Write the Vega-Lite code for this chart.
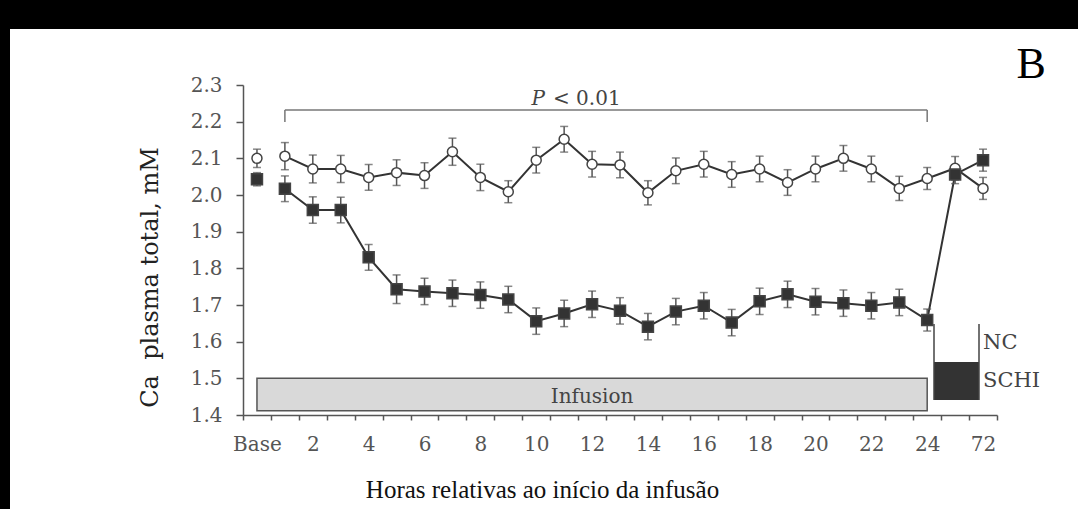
{
  "$schema": "https://vega.github.io/schema/vega-lite/v6.json",
  "background": "white",
  "padding": 0,
  "bounds": "flush",
  "spacing": 0,
  "config": {"view": {"stroke": null}, "font": "DejaVu Serif"},
  "resolve": {"scale": {"fill": "independent"}, "legend": {"fill": "independent"}},
  "datasets": {
    "series": [
      {"pos": 0, "hour": "Base", "group": "NC", "mean": 2.100, "sem": 0.025},
      {"pos": 1, "hour": "1", "group": "NC", "mean": 2.106, "sem": 0.037},
      {"pos": 2, "hour": "2", "group": "NC", "mean": 2.071, "sem": 0.038},
      {"pos": 3, "hour": "3", "group": "NC", "mean": 2.071, "sem": 0.037},
      {"pos": 4, "hour": "4", "group": "NC", "mean": 2.048, "sem": 0.035},
      {"pos": 5, "hour": "5", "group": "NC", "mean": 2.061, "sem": 0.035},
      {"pos": 6, "hour": "6", "group": "NC", "mean": 2.053, "sem": 0.035},
      {"pos": 7, "hour": "7", "group": "NC", "mean": 2.118, "sem": 0.037},
      {"pos": 8, "hour": "8", "group": "NC", "mean": 2.048, "sem": 0.036},
      {"pos": 9, "hour": "9", "group": "NC", "mean": 2.009, "sem": 0.030},
      {"pos": 10, "hour": "10", "group": "NC", "mean": 2.095, "sem": 0.035},
      {"pos": 11, "hour": "11", "group": "NC", "mean": 2.152, "sem": 0.035},
      {"pos": 12, "hour": "12", "group": "NC", "mean": 2.084, "sem": 0.035},
      {"pos": 13, "hour": "13", "group": "NC", "mean": 2.082, "sem": 0.035},
      {"pos": 14, "hour": "14", "group": "NC", "mean": 2.006, "sem": 0.033},
      {"pos": 15, "hour": "15", "group": "NC", "mean": 2.066, "sem": 0.035},
      {"pos": 16, "hour": "16", "group": "NC", "mean": 2.084, "sem": 0.035},
      {"pos": 17, "hour": "17", "group": "NC", "mean": 2.056, "sem": 0.035},
      {"pos": 18, "hour": "18", "group": "NC", "mean": 2.071, "sem": 0.035},
      {"pos": 19, "hour": "19", "group": "NC", "mean": 2.034, "sem": 0.035},
      {"pos": 20, "hour": "20", "group": "NC", "mean": 2.071, "sem": 0.035},
      {"pos": 21, "hour": "21", "group": "NC", "mean": 2.100, "sem": 0.035},
      {"pos": 22, "hour": "22", "group": "NC", "mean": 2.071, "sem": 0.035},
      {"pos": 23, "hour": "23", "group": "NC", "mean": 2.018, "sem": 0.033},
      {"pos": 24, "hour": "24", "group": "NC", "mean": 2.045, "sem": 0.030},
      {"pos": 25, "hour": "48", "group": "NC", "mean": 2.073, "sem": 0.032},
      {"pos": 26, "hour": "72", "group": "NC", "mean": 2.018, "sem": 0.030},
      {"pos": 0, "hour": "Base", "group": "SCHI", "mean": 2.043, "sem": 0.018},
      {"pos": 1, "hour": "1", "group": "SCHI", "mean": 2.017, "sem": 0.035},
      {"pos": 2, "hour": "2", "group": "SCHI", "mean": 1.959, "sem": 0.036},
      {"pos": 3, "hour": "3", "group": "SCHI", "mean": 1.959, "sem": 0.035},
      {"pos": 4, "hour": "4", "group": "SCHI", "mean": 1.830, "sem": 0.035},
      {"pos": 5, "hour": "5", "group": "SCHI", "mean": 1.743, "sem": 0.039},
      {"pos": 6, "hour": "6", "group": "SCHI", "mean": 1.737, "sem": 0.036},
      {"pos": 7, "hour": "7", "group": "SCHI", "mean": 1.732, "sem": 0.036},
      {"pos": 8, "hour": "8", "group": "SCHI", "mean": 1.727, "sem": 0.036},
      {"pos": 9, "hour": "9", "group": "SCHI", "mean": 1.715, "sem": 0.036},
      {"pos": 10, "hour": "10", "group": "SCHI", "mean": 1.656, "sem": 0.036},
      {"pos": 11, "hour": "11", "group": "SCHI", "mean": 1.677, "sem": 0.036},
      {"pos": 12, "hour": "12", "group": "SCHI", "mean": 1.702, "sem": 0.036},
      {"pos": 13, "hour": "13", "group": "SCHI", "mean": 1.684, "sem": 0.036},
      {"pos": 14, "hour": "14", "group": "SCHI", "mean": 1.641, "sem": 0.036},
      {"pos": 15, "hour": "15", "group": "SCHI", "mean": 1.682, "sem": 0.036},
      {"pos": 16, "hour": "16", "group": "SCHI", "mean": 1.698, "sem": 0.036},
      {"pos": 17, "hour": "17", "group": "SCHI", "mean": 1.652, "sem": 0.036},
      {"pos": 18, "hour": "18", "group": "SCHI", "mean": 1.710, "sem": 0.036},
      {"pos": 19, "hour": "19", "group": "SCHI", "mean": 1.729, "sem": 0.036},
      {"pos": 20, "hour": "20", "group": "SCHI", "mean": 1.709, "sem": 0.036},
      {"pos": 21, "hour": "21", "group": "SCHI", "mean": 1.705, "sem": 0.036},
      {"pos": 22, "hour": "22", "group": "SCHI", "mean": 1.698, "sem": 0.036},
      {"pos": 23, "hour": "23", "group": "SCHI", "mean": 1.707, "sem": 0.036},
      {"pos": 24, "hour": "24", "group": "SCHI", "mean": 1.659, "sem": 0.030},
      {"pos": 25, "hour": "48", "group": "SCHI", "mean": 2.056, "sem": 0.025},
      {"pos": 26, "hour": "72", "group": "SCHI", "mean": 2.095, "sem": 0.030}
    ],
    "notes": [
      {"kind": "box", "label": "Infusion", "x": 0, "x2": 24, "y": 1.4117, "y2": 1.5},
      {"kind": "boxlabel", "label": "Infusion", "x": 12, "x2": 12, "y": 1.4319, "y2": 1.4319},
      {"kind": "bracket", "label": "", "x": 1, "x2": 24, "y": 2.232, "y2": 2.232},
      {"kind": "bracket", "label": "", "x": 1, "x2": 1, "y": 2.199, "y2": 2.232},
      {"kind": "bracket", "label": "", "x": 24, "x2": 24, "y": 2.199, "y2": 2.232},
      {"kind": "p", "label": "P", "x": 10.31, "x2": 10.31, "y": 2.2454, "y2": 2.2454},
      {"kind": "pval", "label": "< 0.01", "x": 10.6, "x2": 10.6, "y": 2.2454, "y2": 2.2454},
      {"kind": "panel", "label": "B", "x": 27.72, "x2": 27.72, "y": 2.319, "y2": 2.319}
    ]
  },
  "hconcat": [
    {"width": 10, "height": 509, "view": {"fill": "black", "stroke": null}, "data": {"values": []}, "mark": "point"},
    {
      "bounds": "flush",
      "spacing": 56,
      "resolve": {"scale": {"fill": "independent"}, "legend": {"fill": "independent"}},
      "vconcat": [
        {"width": 1068, "height": 29, "view": {"fill": "black", "stroke": null}, "data": {"values": []}, "mark": "point"},
        {
          "bounds": "flush",
          "spacing": 0,
          "resolve": {"scale": {"fill": "independent"}, "legend": {"fill": "independent"}},
          "hconcat": [
            {"width": 233, "height": 330, "data": {"values": []}, "mark": "point"},
            {
              "width": 754,
              "height": 330,
              "data": {"name": "series"},
              "encoding": {
                "x": {
                  "field": "pos", "type": "quantitative",
                  "scale": {"domain": [-0.5, 26.5], "nice": false, "zero": false},
                  "axis": {
                    "title": "Horas relativas ao início da infusão",
                    "values": [-0.5, 0.5, 1.5, 2.5, 3.5, 4.5, 5.5, 6.5, 7.5, 8.5, 9.5, 10.5, 11.5, 12.5, 13.5, 14.5, 15.5, 16.5, 17.5, 18.5, 19.5, 20.5, 21.5, 22.5, 23.5, 24.5, 25.5, 26.5],
                    "labelExpr": "['Base','','2','','4','','6','','8','','10','','12','','14','','16','','18','','20','','22','','24','','72',''][datum.value + 0.5]",
                    "labelOffset": 13.96,
                    "labelFlush": false,
                    "labelOverlap": false,
                    "labelFont": "DejaVu Serif",
                    "labelFontSize": 20,
                    "labelColor": "#555555",
                    "labelBaseline": "alphabetic",
                    "labelPadding": 30,
                    "tickSize": 5,
                    "tickWidth": 1.5,
                    "tickColor": "#555555",
                    "domainColor": "#555555",
                    "domainWidth": 1.5,
                    "grid": false,
                    "titleFont": "Liberation Serif",
                    "titleFontSize": 25,
                    "titleFontWeight": "normal",
                    "titleColor": "#111111",
                    "titleX": 299,
                    "titleY": 82,
                    "titleBaseline": "alphabetic",
                    "titleAlign": "center"
                  }
                },
                "y": {
                  "field": "mean", "type": "quantitative",
                  "scale": {"domain": [1.4, 2.3], "nice": false, "zero": false},
                  "axis": {
                    "title": "Ca\u00a0 plasma total, mM",
                    "values": [1.4, 1.5, 1.6, 1.7, 1.8, 1.9, 2.0, 2.1, 2.2, 2.3],
                    "format": ".1f",
                    "labelFont": "DejaVu Serif",
                    "labelFontSize": 20,
                    "labelColor": "#555555",
                    "labelPadding": 14,
                    "tickSize": 7,
                    "tickWidth": 1.5,
                    "tickColor": "#555555",
                    "domainColor": "#555555",
                    "domainWidth": 1.5,
                    "grid": false,
                    "titleFont": "DejaVu Serif",
                    "titleFontSize": 24,
                    "titleFontWeight": "normal",
                    "titleColor": "#222222",
                    "titleX": -93,
                    "titleY": 192,
                    "titleAngle": -90,
                    "titleBaseline": "middle",
                    "titleAlign": "center"
                  }
                }
              },
              "layer": [
                {
                  "data": {"name": "notes"},
                  "transform": [{"filter": "datum.kind === 'box'"}],
                  "mark": {"type": "rect", "fill": "#d9d9d9", "stroke": "#555555", "strokeWidth": 1.5},
                  "encoding": {"x": {"field": "x", "type": "quantitative"}, "x2": {"field": "x2"}, "y": {"field": "y", "type": "quantitative"}, "y2": {"field": "y2"}}
                },
                {
                  "data": {"name": "notes"},
                  "transform": [{"filter": "datum.kind === 'bracket'"}],
                  "mark": {"type": "rule", "color": "#777777", "strokeWidth": 1.5},
                  "encoding": {"x": {"field": "x", "type": "quantitative"}, "x2": {"field": "x2"}, "y": {"field": "y", "type": "quantitative"}, "y2": {"field": "y2"}}
                },
                {
                  "data": {"name": "notes"},
                  "transform": [{"filter": "datum.kind === 'boxlabel'"}],
                  "mark": {"type": "text", "font": "DejaVu Serif", "fontSize": 20, "color": "#444444", "align": "center", "baseline": "alphabetic"},
                  "encoding": {"text": {"field": "label"}, "x": {"field": "x", "type": "quantitative"}, "y": {"field": "y", "type": "quantitative"}}
                },
                {
                  "data": {"name": "notes"},
                  "transform": [{"filter": "datum.kind === 'pval'"}],
                  "mark": {"type": "text", "font": "DejaVu Serif", "fontSize": 20, "color": "#444444", "align": "left", "baseline": "alphabetic"},
                  "encoding": {"text": {"field": "label"}, "x": {"field": "x", "type": "quantitative"}, "y": {"field": "y", "type": "quantitative"}}
                },
                {
                  "data": {"name": "notes"},
                  "transform": [{"filter": "datum.kind === 'p'"}],
                  "mark": {"type": "text", "font": "DejaVu Serif", "fontStyle": "italic", "fontSize": 20, "color": "#444444", "align": "right", "baseline": "alphabetic"},
                  "encoding": {"text": {"field": "label"}, "x": {"field": "x", "type": "quantitative"}, "y": {"field": "y", "type": "quantitative"}}
                },
                {
                  "data": {"name": "notes"},
                  "transform": [{"filter": "datum.kind === 'panel'"}],
                  "mark": {"type": "text", "font": "Liberation Serif", "fontSize": 44, "color": "#000000", "align": "center", "baseline": "alphabetic"},
                  "encoding": {"text": {"field": "label"}, "x": {"field": "x", "type": "quantitative"}, "y": {"field": "y", "type": "quantitative"}}
                },
                {
                  "transform": [{"filter": "datum.pos > 0"}],
                  "mark": {"type": "line", "color": "#333333", "strokeWidth": 2},
                  "encoding": {"detail": {"field": "group"}}
                },
                {
                  "mark": {"type": "errorbar", "ticks": true, "size": 8, "thickness": 1.5, "color": "#555555"},
                  "encoding": {"yError": {"field": "sem"}}
                },
                {
                  "mark": {"type": "point", "filled": true, "stroke": "#444444", "strokeWidth": 1.5, "opacity": 1},
                  "encoding": {
                    "shape": {"condition": {"test": "datum.group === 'NC'", "value": "circle"}, "value": "square"},
                    "size": {"condition": {"test": "datum.group === 'NC'", "value": 100}, "value": 121},
                    "fill": {"field": "group", "type": "nominal", "title": null, "scale": {"domain": ["NC", "SCHI"], "range": ["#ffffff", "#333333"]},
                      "legend": {
                        "orient": "none",
                        "legendX": 690,
                        "legendY": 239,
                        "padding": 0,
                        "rowPadding": 0,
                        "clipHeight": 38,
                        "symbolSize": 2025,
                        "symbolStrokeColor": "#444444",
                        "symbolStrokeWidth": 1.5,
                        "labelFont": "DejaVu Serif",
                        "labelFontSize": 21,
                        "labelColor": "#444444",
                        "labelOffset": 3,
                        "encode": {"symbols": {
                          "shape": {"condition": {"test": "datum.value === 'NC'", "value": "M-1,0H-0.2M0.2,0H1M-0.2,0A0.2,0.2 0 1,0 0.2,0A0.2,0.2 0 1,0 -0.2,0Z"}, "value": "M-1,0H-0.27M0.27,0H1M-0.27,-0.27H0.27V0.27H-0.27Z"},
                          "stroke": {"value": "#444444"},
                          "strokeWidth": {"value": 1.5},
                          "size": {"value": 2025}
                        }}
                      }
                    }
                  }
                }
              ]
            }
          ]
        }
      ]
    }
  ]
}
